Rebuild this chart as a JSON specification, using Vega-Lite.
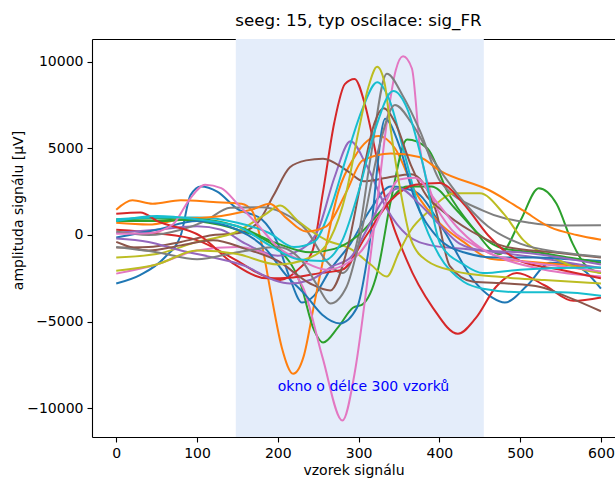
{
  "$schema": "https://vega.github.io/schema/vega-lite/v6.json",
  "autosize": {"type": "none"},
  "padding": {"left": 92, "top": 39, "right": 0, "bottom": 47},
  "width": 523,
  "height": 398,
  "background": "white",
  "config": {
    "view": {"stroke": null},
    "axis": {
      "grid": false,
      "domainColor": "#000000",
      "domainWidth": 1.1,
      "tickColor": "#000000",
      "tickWidth": 1.1,
      "tickSize": 5,
      "labelColor": "#000000",
      "labelFont": "DejaVu Sans",
      "labelFontSize": 14,
      "labelPadding": 4,
      "titleFont": "DejaVu Sans",
      "titleFontSize": 14,
      "titleFontWeight": "normal",
      "titleColor": "#000000"
    }
  },
  "title": {
    "text": "seeg: 15, typ oscilace: sig_FR",
    "font": "DejaVu Sans",
    "fontSize": 16.7,
    "fontWeight": "normal",
    "color": "#000000",
    "frame": "group",
    "anchor": "middle",
    "baseline": "alphabetic",
    "offset": 11,
    "dx": 5,
    "dy": 15
  },
  "datasets": {
    "span": [{"start": 148, "end": 455}],
    "note": [{"x": 200, "y": -9000, "label": "okno o délce 300 vzorků"}],
    "lines": [
      {"s":"s01","x":0,"y":-2800},{"s":"s01","x":30,"y":-2300},{"s":"s01","x":60,"y":-1300},{"s":"s01","x":80,"y":0},{"s":"s01","x":92,"y":2300},{"s":"s01","x":105,"y":2800},{"s":"s01","x":125,"y":2500},{"s":"s01","x":150,"y":1500},{"s":"s01","x":180,"y":900},{"s":"s01","x":200,"y":-500},{"s":"s01","x":215,"y":-2500},{"s":"s01","x":230,"y":-3900},{"s":"s01","x":245,"y":-3500},{"s":"s01","x":265,"y":-2000},{"s":"s01","x":290,"y":-500},{"s":"s01","x":315,"y":1500},{"s":"s01","x":340,"y":2800},{"s":"s01","x":370,"y":2500},{"s":"s01","x":405,"y":300},{"s":"s01","x":442,"y":-2600},{"s":"s01","x":465,"y":-3600},{"s":"s01","x":481,"y":-3900},{"s":"s01","x":509,"y":-2900},{"s":"s01","x":537,"y":-1600},{"s":"s01","x":565,"y":-1700},{"s":"s01","x":600,"y":-3100},

      {"s":"s02","x":0,"y":1460},{"s":"s02","x":20,"y":2000},{"s":"s02","x":45,"y":1800},{"s":"s02","x":80,"y":2000},{"s":"s02","x":120,"y":1900},{"s":"s02","x":155,"y":1800},{"s":"s02","x":168,"y":1400},{"s":"s02","x":180,"y":-500},{"s":"s02","x":192,"y":-3500},{"s":"s02","x":205,"y":-6500},{"s":"s02","x":219,"y":-8000},{"s":"s02","x":232,"y":-7000},{"s":"s02","x":245,"y":-4000},{"s":"s02","x":258,"y":-1000},{"s":"s02","x":275,"y":2500},{"s":"s02","x":295,"y":4500},{"s":"s02","x":325,"y":5700},{"s":"s02","x":345,"y":5000},{"s":"s02","x":370,"y":2500},{"s":"s02","x":400,"y":700},{"s":"s02","x":430,"y":-400},{"s":"s02","x":463,"y":-1370},{"s":"s02","x":500,"y":-1500},{"s":"s02","x":550,"y":-1700},{"s":"s02","x":600,"y":-1900},

      {"s":"s03","x":0,"y":900},{"s":"s03","x":50,"y":950},{"s":"s03","x":100,"y":800},{"s":"s03","x":150,"y":300},{"s":"s03","x":200,"y":-800},{"s":"s03","x":228,"y":-2800},{"s":"s03","x":245,"y":-5500},{"s":"s03","x":256,"y":-6200},{"s":"s03","x":275,"y":-5300},{"s":"s03","x":293,"y":-4200},{"s":"s03","x":305,"y":-4000},{"s":"s03","x":323,"y":-2200},{"s":"s03","x":340,"y":2000},{"s":"s03","x":360,"y":5500},{"s":"s03","x":385,"y":5000},{"s":"s03","x":410,"y":2500},{"s":"s03","x":440,"y":500},{"s":"s03","x":475,"y":-1100},{"s":"s03","x":500,"y":800},{"s":"s03","x":523,"y":2700},{"s":"s03","x":545,"y":1800},{"s":"s03","x":565,"y":-500},{"s":"s03","x":580,"y":-1700},{"s":"s03","x":600,"y":-2200},

      {"s":"s04","x":0,"y":300},{"s":"s04","x":50,"y":100},{"s":"s04","x":100,"y":-300},{"s":"s04","x":150,"y":-1500},{"s":"s04","x":180,"y":-2300},{"s":"s04","x":203,"y":-2600},{"s":"s04","x":225,"y":-2000},{"s":"s04","x":243,"y":-900},{"s":"s04","x":256,"y":2500},{"s":"s04","x":270,"y":6500},{"s":"s04","x":283,"y":8700},{"s":"s04","x":295,"y":9000},{"s":"s04","x":308,"y":7500},{"s":"s04","x":320,"y":5000},{"s":"s04","x":331,"y":2500},{"s":"s04","x":360,"y":-1500},{"s":"s04","x":392,"y":-4200},{"s":"s04","x":423,"y":-5700},{"s":"s04","x":445,"y":-4800},{"s":"s04","x":470,"y":-3000},{"s":"s04","x":496,"y":-2200},{"s":"s04","x":530,"y":-2900},{"s":"s04","x":566,"y":-3800},{"s":"s04","x":600,"y":-3600},

      {"s":"s05","x":0,"y":130},{"s":"s05","x":50,"y":300},{"s":"s05","x":100,"y":500},{"s":"s05","x":130,"y":300},{"s":"s05","x":160,"y":-500},{"s":"s05","x":200,"y":-1200},{"s":"s05","x":230,"y":-800},{"s":"s05","x":250,"y":300},{"s":"s05","x":270,"y":3300},{"s":"s05","x":290,"y":5400},{"s":"s05","x":310,"y":4000},{"s":"s05","x":335,"y":1500},{"s":"s05","x":360,"y":0},{"s":"s05","x":390,"y":-600},{"s":"s05","x":430,"y":-800},{"s":"s05","x":470,"y":-1000},{"s":"s05","x":520,"y":-1300},{"s":"s05","x":560,"y":-1600},{"s":"s05","x":600,"y":-1900},

      {"s":"s06","x":0,"y":-730},{"s":"s06","x":40,"y":-700},{"s":"s06","x":80,"y":-400},{"s":"s06","x":120,"y":0},{"s":"s06","x":150,"y":100},{"s":"s06","x":175,"y":700},{"s":"s06","x":195,"y":2300},{"s":"s06","x":215,"y":3900},{"s":"s06","x":235,"y":4300},{"s":"s06","x":256,"y":4400},{"s":"s06","x":286,"y":3700},{"s":"s06","x":306,"y":3100},{"s":"s06","x":335,"y":3300},{"s":"s06","x":365,"y":3500},{"s":"s06","x":395,"y":1500},{"s":"s06","x":413,"y":-1800},{"s":"s06","x":442,"y":-2700},{"s":"s06","x":484,"y":-2800},{"s":"s06","x":525,"y":-3000},{"s":"s06","x":560,"y":-3600},{"s":"s06","x":600,"y":-4400},

      {"s":"s07","x":0,"y":-2230},{"s":"s07","x":50,"y":-1700},{"s":"s07","x":100,"y":-900},{"s":"s07","x":150,"y":-700},{"s":"s07","x":200,"y":-1500},{"s":"s07","x":231,"y":-3000},{"s":"s07","x":255,"y":-7000},{"s":"s07","x":280,"y":-10700},{"s":"s07","x":295,"y":-8000},{"s":"s07","x":310,"y":-3000},{"s":"s07","x":322,"y":1500},{"s":"s07","x":335,"y":6500},{"s":"s07","x":346,"y":9500},{"s":"s07","x":355,"y":10300},{"s":"s07","x":366,"y":9600},{"s":"s07","x":376,"y":5000},{"s":"s07","x":389,"y":2500},{"s":"s07","x":410,"y":600},{"s":"s07","x":440,"y":-500},{"s":"s07","x":480,"y":-1400},{"s":"s07","x":530,"y":-2000},{"s":"s07","x":600,"y":-2400},

      {"s":"s08","x":0,"y":200},{"s":"s08","x":40,"y":0},{"s":"s08","x":80,"y":300},{"s":"s08","x":110,"y":800},{"s":"s08","x":141,"y":1570},{"s":"s08","x":180,"y":1600},{"s":"s08","x":205,"y":1300},{"s":"s08","x":235,"y":300},{"s":"s08","x":260,"y":-1500},{"s":"s08","x":280,"y":-2200},{"s":"s08","x":300,"y":0},{"s":"s08","x":315,"y":4500},{"s":"s08","x":335,"y":9300},{"s":"s08","x":355,"y":8000},{"s":"s08","x":376,"y":6000},{"s":"s08","x":401,"y":3100},{"s":"s08","x":454,"y":1400},{"s":"s08","x":512,"y":700},{"s":"s08","x":550,"y":550},{"s":"s08","x":600,"y":560},

      {"s":"s09","x":0,"y":-1300},{"s":"s09","x":50,"y":-1100},{"s":"s09","x":100,"y":-400},{"s":"s09","x":150,"y":200},{"s":"s09","x":185,"y":1200},{"s":"s09","x":203,"y":1700},{"s":"s09","x":225,"y":800},{"s":"s09","x":260,"y":-300},{"s":"s09","x":290,"y":-800},{"s":"s09","x":315,"y":-1700},{"s":"s09","x":335,"y":-2400},{"s":"s09","x":350,"y":-1000},{"s":"s09","x":365,"y":300},{"s":"s09","x":385,"y":1300},{"s":"s09","x":420,"y":2400},{"s":"s09","x":450,"y":2400},{"s":"s09","x":480,"y":1200},{"s":"s09","x":504,"y":-300},{"s":"s09","x":541,"y":-1300},{"s":"s09","x":570,"y":-1900},{"s":"s09","x":600,"y":-2200},

      {"s":"s10","x":0,"y":900},{"s":"s10","x":50,"y":1000},{"s":"s10","x":100,"y":1000},{"s":"s10","x":150,"y":700},{"s":"s10","x":190,"y":100},{"s":"s10","x":220,"y":-700},{"s":"s10","x":245,"y":-400},{"s":"s10","x":265,"y":1500},{"s":"s10","x":285,"y":4500},{"s":"s10","x":305,"y":7300},{"s":"s10","x":323,"y":8800},{"s":"s10","x":338,"y":7800},{"s":"s10","x":355,"y":5000},{"s":"s10","x":375,"y":1500},{"s":"s10","x":400,"y":-1200},{"s":"s10","x":430,"y":-2700},{"s":"s10","x":454,"y":-3100},{"s":"s10","x":500,"y":-3300},{"s":"s10","x":550,"y":-3300},{"s":"s10","x":600,"y":-3500},

      {"s":"s11","x":0,"y":-150},{"s":"s11","x":50,"y":300},{"s":"s11","x":100,"y":800},{"s":"s11","x":150,"y":300},{"s":"s11","x":185,"y":-800},{"s":"s11","x":210,"y":-2300},{"s":"s11","x":235,"y":-3500},{"s":"s11","x":255,"y":-4600},{"s":"s11","x":277,"y":-5100},{"s":"s11","x":298,"y":-4200},{"s":"s11","x":312,"y":-1000},{"s":"s11","x":333,"y":6700},{"s":"s11","x":350,"y":5200},{"s":"s11","x":370,"y":2000},{"s":"s11","x":395,"y":0},{"s":"s11","x":430,"y":-1000},{"s":"s11","x":470,"y":-1300},{"s":"s11","x":520,"y":-1300},{"s":"s11","x":560,"y":-1400},{"s":"s11","x":600,"y":-1500},

      {"s":"s12","x":0,"y":700},{"s":"s12","x":40,"y":600},{"s":"s12","x":80,"y":900},{"s":"s12","x":130,"y":1100},{"s":"s12","x":170,"y":1500},{"s":"s12","x":190,"y":1800},{"s":"s12","x":210,"y":1000},{"s":"s12","x":235,"y":200},{"s":"s12","x":260,"y":500},{"s":"s12","x":285,"y":2500},{"s":"s12","x":305,"y":4300},{"s":"s12","x":340,"y":4700},{"s":"s12","x":375,"y":4500},{"s":"s12","x":401,"y":3700},{"s":"s12","x":463,"y":2550},{"s":"s12","x":504,"y":1400},{"s":"s12","x":537,"y":450},{"s":"s12","x":570,"y":0},{"s":"s12","x":600,"y":-270},

      {"s":"s13","x":0,"y":800},{"s":"s13","x":50,"y":800},{"s":"s13","x":100,"y":900},{"s":"s13","x":150,"y":500},{"s":"s13","x":200,"y":-500},{"s":"s13","x":240,"y":-1000},{"s":"s13","x":270,"y":-800},{"s":"s13","x":300,"y":0},{"s":"s13","x":330,"y":1500},{"s":"s13","x":360,"y":2800},{"s":"s13","x":390,"y":2800},{"s":"s13","x":420,"y":1500},{"s":"s13","x":450,"y":0},{"s":"s13","x":480,"y":-800},{"s":"s13","x":520,"y":-1000},{"s":"s13","x":560,"y":-1300},{"s":"s13","x":600,"y":-1600},

      {"s":"s14","x":0,"y":1230},{"s":"s14","x":30,"y":1300},{"s":"s14","x":51,"y":800},{"s":"s14","x":104,"y":-50},{"s":"s14","x":145,"y":-1650},{"s":"s14","x":187,"y":-2500},{"s":"s14","x":219,"y":-2450},{"s":"s14","x":252,"y":-2200},{"s":"s14","x":280,"y":-2000},{"s":"s14","x":310,"y":0},{"s":"s14","x":340,"y":2000},{"s":"s14","x":370,"y":2900},{"s":"s14","x":400,"y":3000},{"s":"s14","x":430,"y":1800},{"s":"s14","x":460,"y":0},{"s":"s14","x":500,"y":-1500},{"s":"s14","x":550,"y":-2000},{"s":"s14","x":600,"y":-2500},

      {"s":"s15","x":0,"y":-200},{"s":"s15","x":40,"y":-400},{"s":"s15","x":80,"y":-900},{"s":"s15","x":120,"y":-1300},{"s":"s15","x":160,"y":-1800},{"s":"s15","x":195,"y":-2600},{"s":"s15","x":215,"y":-2800},{"s":"s15","x":240,"y":-2600},{"s":"s15","x":268,"y":-1800},{"s":"s15","x":290,"y":-1300},{"s":"s15","x":310,"y":300},{"s":"s15","x":330,"y":2000},{"s":"s15","x":350,"y":2700},{"s":"s15","x":375,"y":1800},{"s":"s15","x":400,"y":600},{"s":"s15","x":425,"y":-500},{"s":"s15","x":455,"y":-900},{"s":"s15","x":500,"y":-1000},{"s":"s15","x":550,"y":-1300},{"s":"s15","x":600,"y":-1700},

      {"s":"s16","x":0,"y":-400},{"s":"s16","x":40,"y":-900},{"s":"s16","x":80,"y":-600},{"s":"s16","x":120,"y":-300},{"s":"s16","x":160,"y":-800},{"s":"s16","x":200,"y":-1500},{"s":"s16","x":240,"y":-2800},{"s":"s16","x":265,"y":-3200},{"s":"s16","x":285,"y":-1000},{"s":"s16","x":305,"y":3500},{"s":"s16","x":320,"y":6500},{"s":"s16","x":331,"y":7300},{"s":"s16","x":345,"y":6500},{"s":"s16","x":365,"y":4000},{"s":"s16","x":385,"y":2200},{"s":"s16","x":401,"y":1500},{"s":"s16","x":440,"y":200},{"s":"s16","x":484,"y":-700},{"s":"s16","x":540,"y":-1000},{"s":"s16","x":600,"y":-1300},

      {"s":"s17","x":0,"y":70},{"s":"s17","x":40,"y":100},{"s":"s17","x":70,"y":600},{"s":"s17","x":90,"y":2000},{"s":"s17","x":110,"y":2900},{"s":"s17","x":130,"y":2700},{"s":"s17","x":150,"y":1800},{"s":"s17","x":175,"y":600},{"s":"s17","x":200,"y":-700},{"s":"s17","x":230,"y":-1500},{"s":"s17","x":260,"y":-2000},{"s":"s17","x":290,"y":-1500},{"s":"s17","x":310,"y":-500},{"s":"s17","x":330,"y":1500},{"s":"s17","x":350,"y":3200},{"s":"s17","x":370,"y":3300},{"s":"s17","x":395,"y":2000},{"s":"s17","x":425,"y":300},{"s":"s17","x":460,"y":-1000},{"s":"s17","x":500,"y":-1500},{"s":"s17","x":550,"y":-1800},{"s":"s17","x":600,"y":-2100},

      {"s":"s18","x":0,"y":-700},{"s":"s18","x":50,"y":-1000},{"s":"s18","x":100,"y":-1400},{"s":"s18","x":150,"y":-1000},{"s":"s18","x":200,"y":-700},{"s":"s18","x":230,"y":-1500},{"s":"s18","x":250,"y":-3000},{"s":"s18","x":265,"y":-3950},{"s":"s18","x":285,"y":-3000},{"s":"s18","x":305,"y":500},{"s":"s18","x":325,"y":5000},{"s":"s18","x":345,"y":7500},{"s":"s18","x":365,"y":6500},{"s":"s18","x":390,"y":4500},{"s":"s18","x":420,"y":2500},{"s":"s18","x":460,"y":500},{"s":"s18","x":500,"y":-500},{"s":"s18","x":550,"y":-1000},{"s":"s18","x":600,"y":-1250},

      {"s":"s19","x":0,"y":-2060},{"s":"s19","x":50,"y":-1700},{"s":"s19","x":100,"y":-900},{"s":"s19","x":150,"y":-1100},{"s":"s19","x":200,"y":-1700},{"s":"s19","x":240,"y":-1300},{"s":"s19","x":265,"y":-200},{"s":"s19","x":285,"y":2500},{"s":"s19","x":300,"y":6000},{"s":"s19","x":312,"y":8500},{"s":"s19","x":323,"y":9700},{"s":"s19","x":332,"y":8800},{"s":"s19","x":340,"y":6000},{"s":"s19","x":352,"y":2500},{"s":"s19","x":365,"y":-300},{"s":"s19","x":385,"y":-1500},{"s":"s19","x":420,"y":-2100},{"s":"s19","x":470,"y":-2400},{"s":"s19","x":530,"y":-2600},{"s":"s19","x":600,"y":-2800},

      {"s":"s20","x":0,"y":800},{"s":"s20","x":50,"y":1100},{"s":"s20","x":100,"y":900},{"s":"s20","x":150,"y":500},{"s":"s20","x":190,"y":-600},{"s":"s20","x":225,"y":-1400},{"s":"s20","x":255,"y":-1500},{"s":"s20","x":280,"y":-300},{"s":"s20","x":300,"y":2500},{"s":"s20","x":320,"y":6000},{"s":"s20","x":343,"y":8300},{"s":"s20","x":360,"y":7300},{"s":"s20","x":380,"y":4000},{"s":"s20","x":401,"y":-500},{"s":"s20","x":430,"y":-1700},{"s":"s20","x":454,"y":-2200},{"s":"s20","x":500,"y":-2000},{"s":"s20","x":550,"y":-1900},{"s":"s20","x":600,"y":-1870}
    ]
  },
  "resolve": {"axis": {"x": "independent"}},
  "layer": [
    {
      "data": {"name": "span"},
      "mark": {"type": "rect", "fill": "#e4edfa"},
      "encoding": {
        "x": {"field": "start", "type": "quantitative",
              "scale": {"domain": [-30, 617.4], "nice": false, "zero": false},
              "axis": {"orient": "top", "labels": false, "ticks": false, "title": null, "domain": true}},
        "x2": {"field": "end"}
      }
    },
    {
      "data": {"name": "lines"},
      "mark": {"type": "line", "strokeWidth": 2, "interpolate": "monotone", "clip": true},
      "encoding": {
        "x": {"field": "x", "type": "quantitative",
              "scale": {"domain": [-30, 617.4], "nice": false, "zero": false},
              "axis": {"values": [0, 100, 200, 300, 400, 500, 600], "format": "d",
                       "title": "vzorek signálu", "titleY": 37, "titleBaseline": "alphabetic"}},
        "y": {"field": "y", "type": "quantitative",
              "scale": {"domain": [-11650, 11300], "nice": false, "zero": false},
              "axis": {"values": [-10000, -5000, 0, 5000, 10000], "format": "d",
                       "title": "amplituda signálu [μV]", "titleX": -70, "titleY": 171,
                       "titleBaseline": "alphabetic", "titleAlign": "center"}},
        "color": {"field": "s", "type": "nominal", "legend": null,
                  "scale": {"domain": ["s01","s02","s03","s04","s05","s06","s07","s08","s09","s10","s11","s12","s13","s14","s15","s16","s17","s18","s19","s20"],
                            "range": ["#1f77b4","#ff7f0e","#2ca02c","#d62728","#9467bd","#8c564b","#e377c2","#7f7f7f","#bcbd22","#17becf","#1f77b4","#ff7f0e","#2ca02c","#d62728","#9467bd","#8c564b","#e377c2","#7f7f7f","#bcbd22","#17becf"]}}
      }
    },
    {
      "data": {"name": "note"},
      "mark": {"type": "text", "align": "left", "baseline": "alphabetic", "font": "DejaVu Sans", "fontSize": 14, "color": "#0000ff"},
      "encoding": {
        "x": {"field": "x", "type": "quantitative", "axis": null},
        "y": {"field": "y", "type": "quantitative"},
        "text": {"field": "label"}
      }
    }
  ]
}
